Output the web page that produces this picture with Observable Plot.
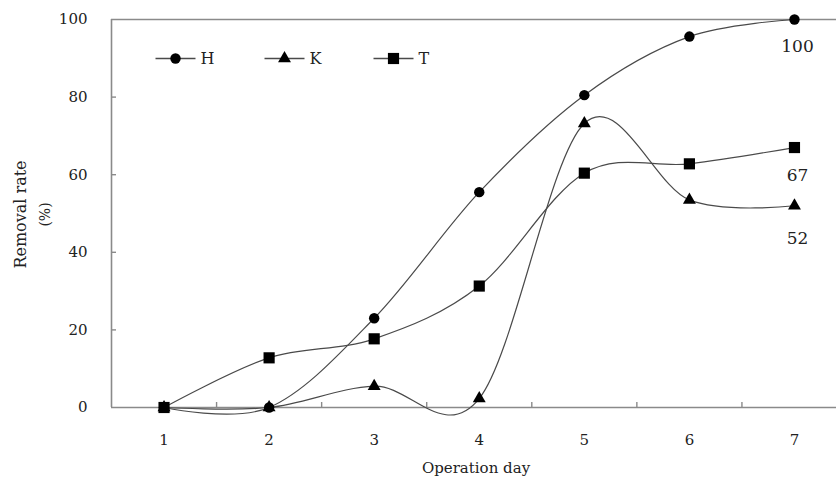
<!DOCTYPE html>
<html><head><meta charset="utf-8">
<script src="https://cdn.jsdelivr.net/npm/d3@7"></script>
<script src="https://cdn.jsdelivr.net/npm/@observablehq/plot@0.6"></script>
<style>body{margin:0;background:#fff} #chart{width:836px;height:480px}</style>
</head><body><div id="chart"></div>
<script>
// ---- data ----
const days = [1, 2, 3, 4, 5, 6, 7];
const seriesNames = ["H", "K", "T"];
const valuesH = [0, 0, 23, 55.5, 80.5, 95.6, 100];
const valuesK = [0, 0, 5.5, 2.3, 73.2, 53.5, 52];
const valuesT = [0, 12.8, 17.7, 31.3, 60.4, 62.8, 67];
const yTicks = [0, 20, 40, 60, 80, 100];
const endLabels = [
  { series: "H", text: "100" },
  { series: "T", text: "67" },
  { series: "K", text: "52" }
];
const xTitle = "Operation day";
const yTitleLines = ["Removal rate", "(%)"];

// ---- build table ----
const seriesValues = { H: valuesH, K: valuesK, T: valuesT };
const rows = seriesNames.flatMap(s => days.map((d, i) => ({ series: s, day: d, value: seriesValues[s][i] })));
const lastRows = endLabels.map(l => ({ ...l, day: days[days.length - 1], value: seriesValues[l.series][days.length - 1] }));

// ---- styles ----
const symbolOf = { H: "circle", K: "triangle", T: "square" };
const rOf = { H: 5.2, K: 4.8, T: 6.3 };
const labelDy = { H: 27, T: 28, K: 33 };
const axisColor = "#8a8a8a";
const lineColor = "#4a4a4a";
const lineSym = { draw(ctx) { ctx.moveTo(-20, 0); ctx.lineTo(20, 0); } };
const legendX0 = 64, legendStep = 109, legendDy = 39;
const yTitleDx = [-91, -66], yTitleSize = [16, 14];

const marks = [
  Plot.ruleY([0, 100], { stroke: axisColor, strokeWidth: 1.6 }),
  Plot.ruleX([0.5], { stroke: axisColor, strokeWidth: 1.6 }),
  Plot.axisY({ ticks: yTicks, tickSize: 0, tickPadding: 24, fontSize: 15, label: null }),
  Plot.axisY({ ticks: yTicks.slice(1, -1), tickSize: -5, text: null, label: null, stroke: axisColor, strokeWidth: 1.4 }),
  Plot.axisX({ ticks: days, tickSize: 0, tickPadding: 27, fontSize: 15, label: null, tickFormat: d => String(d) }),
  Plot.axisX({ ticks: days.slice(1).map(d => d - 0.5), tickSize: -5, text: null, label: null, stroke: axisColor, strokeWidth: 1.4 }),
  Plot.line(rows, { x: "day", y: "value", z: "series", stroke: lineColor, strokeWidth: 1.2, curve: "cardinal" }),
  ...seriesNames.map(s => Plot.dot(rows.filter(r => r.series === s), {
    x: "day", y: "value", symbol: symbolOf[s], r: rOf[s], fill: "black", stroke: "none"
  })),
  ...lastRows.map(l => Plot.text([l], { x: "day", y: "value", text: "text", dy: labelDy[l.series], fontSize: 17, dx: 3 })),
  // legend
  ...seriesNames.flatMap((s, i) => [
    Plot.dot([s], { frameAnchor: "top-left", dx: legendX0 + i * legendStep, dy: legendDy, symbol: lineSym, stroke: lineColor, strokeWidth: 1.3, fill: "none" }),
    Plot.dot([s], { frameAnchor: "top-left", dx: legendX0 + i * legendStep, dy: legendDy, symbol: symbolOf[s], r: rOf[s], fill: "black", stroke: "none" }),
    Plot.text([s], { frameAnchor: "top-left", dx: legendX0 + i * legendStep + 25, dy: legendDy, text: d => d, textAnchor: "start", lineAnchor: "middle", fontSize: 16 })
  ]),
  // titles
  Plot.text([xTitle], { frameAnchor: "bottom", text: d => d, dy: 61, dx: 2, fontSize: 15, lineAnchor: "middle" }),
  ...yTitleLines.map((t, i) => Plot.text([t], { frameAnchor: "left", text: d => d, rotate: -90, dx: yTitleDx[i], dy: 1, fontSize: yTitleSize[i], textAnchor: "middle", lineAnchor: "middle" }))
];

const chart = Plot.plot({
  width: 836,
  height: 480,
  marginLeft: 111,
  marginRight: 0,
  marginTop: 19,
  marginBottom: 73,
  x: { domain: [0.5, 7.4], label: null },
  y: { domain: [0, 100], label: null },
  style: { fontFamily: "'DejaVu Serif', serif", fontSize: "15px", color: "#222", background: "#fff", overflow: "visible" },
  marks
});
document.getElementById("chart").appendChild(chart);
</script>
</body></html>
